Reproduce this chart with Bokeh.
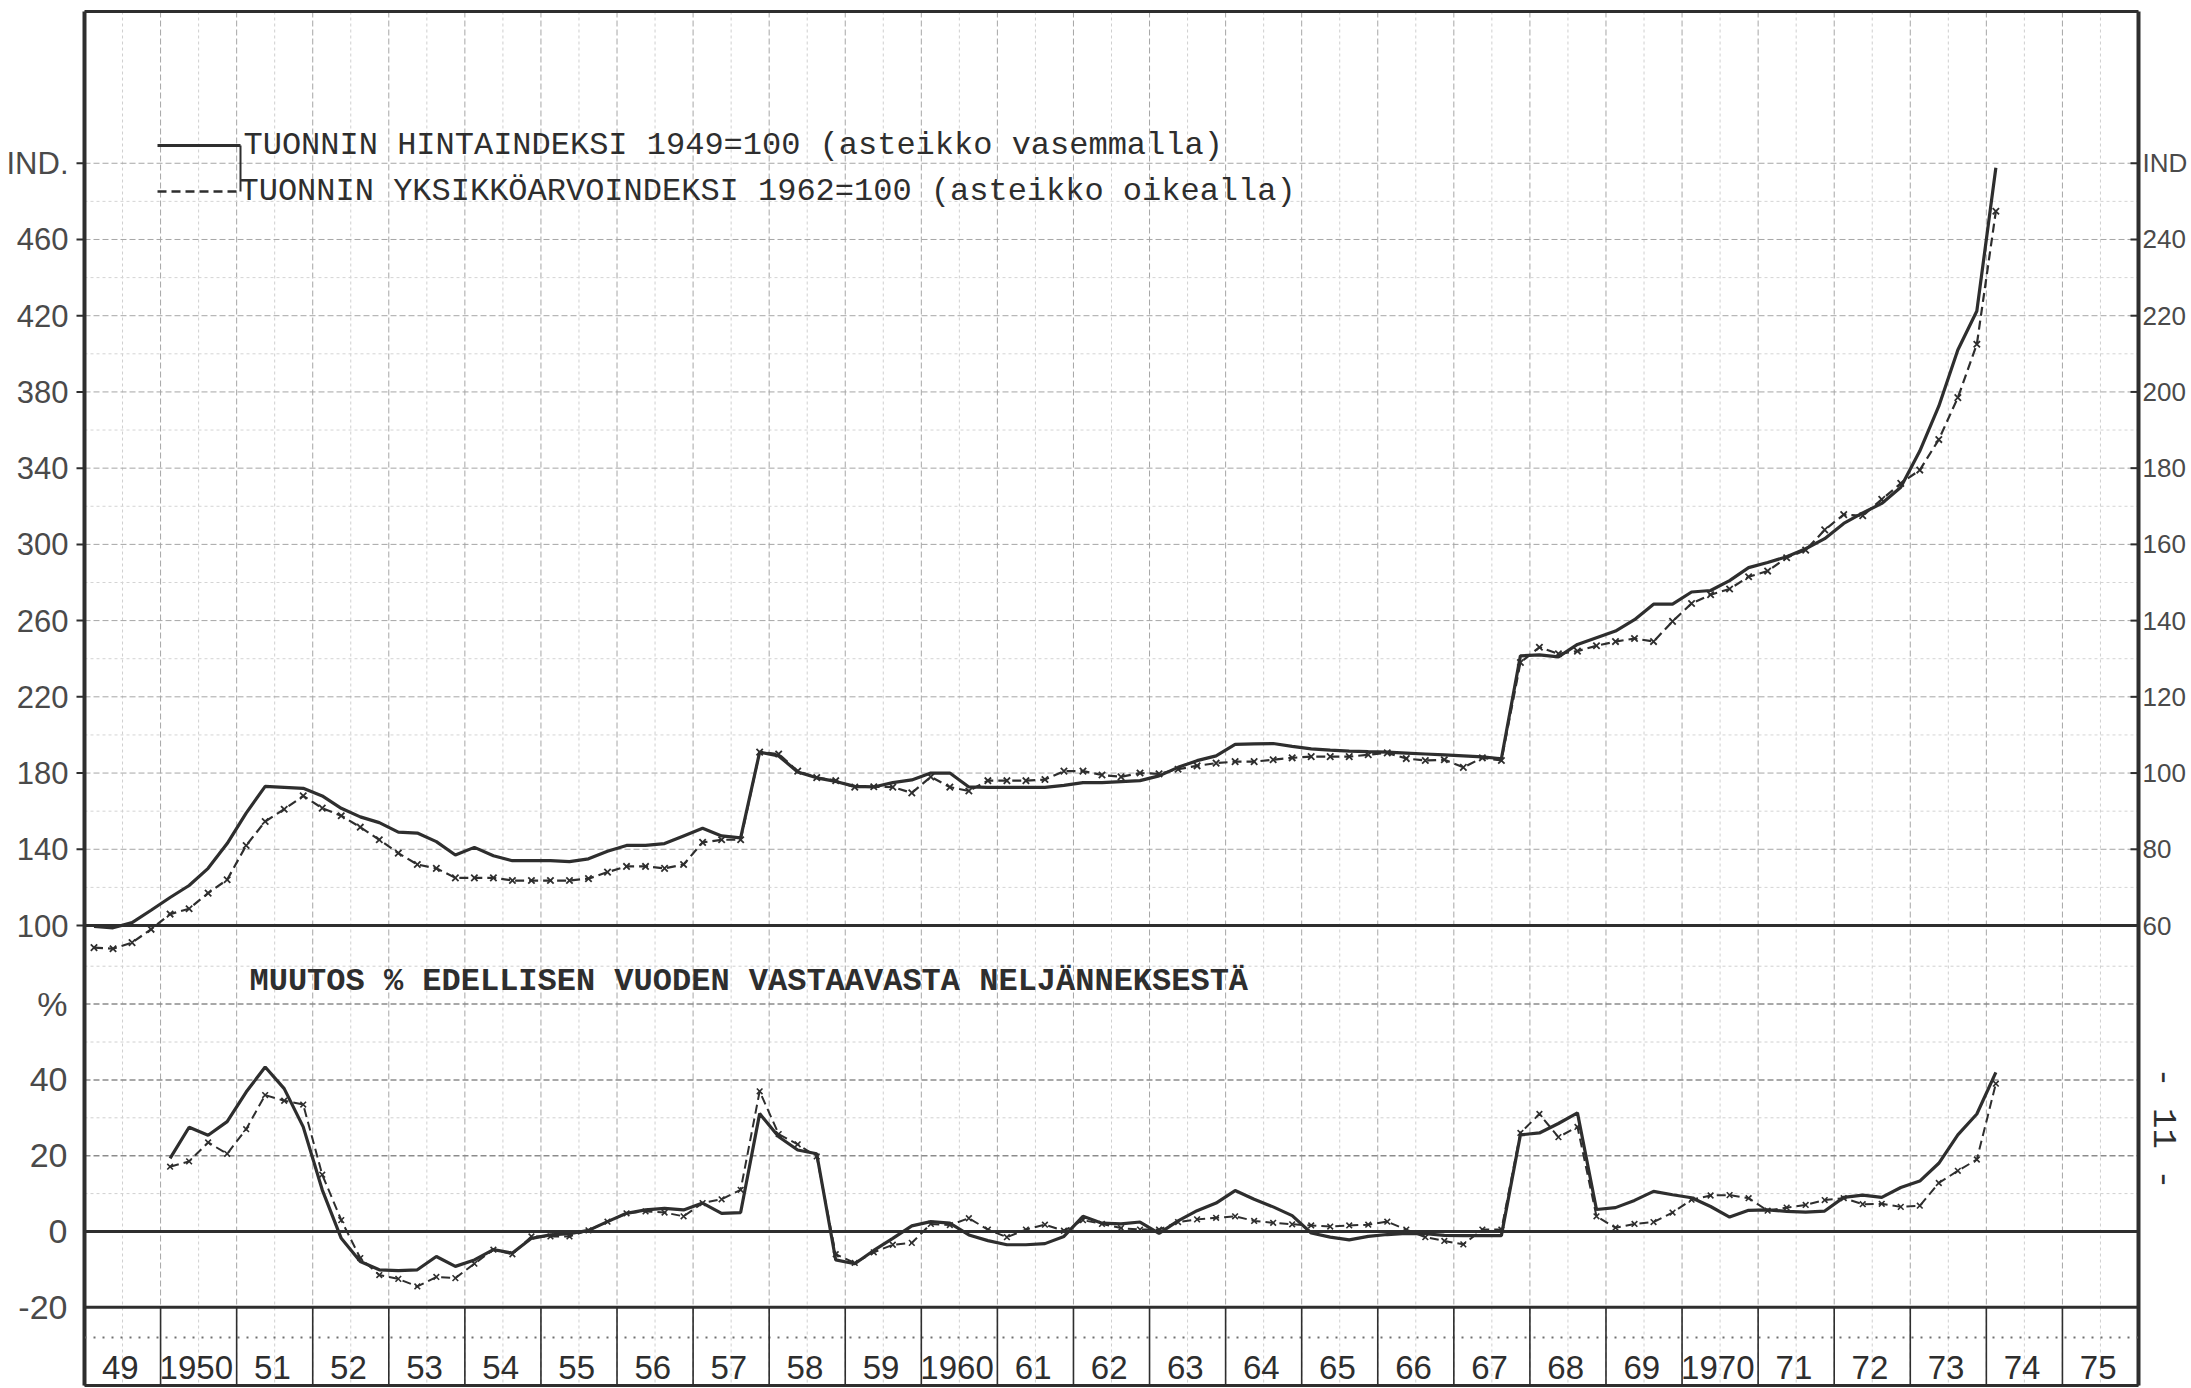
import numpy as np
from bokeh.plotting import figure
from bokeh.models import Range1d, Label
from bokeh.core.properties import value
from bokeh.embed import file_html
from bokeh.resources import INLINE

# ---------------- data (quarterly, from 1949 Q1) ----------------
start_year = 1949

# TUONNIN HINTAINDEKSI 1949=100 (left scale)
hinta_1949 = [99.5, 98.8, 101.5, 108, 114.7, 121, 130, 143, 159, 173,
              172.5, 172, 168, 161.5, 157, 154, 149, 148.5, 144, 137,
              141, 136.6, 134, 134, 134, 133.5, 135, 139, 142, 142,
              143, 147, 151, 147, 146, 191, 189, 180.6, 177.5, 175.6,
              173, 172.7, 175, 176.4, 180, 180, 172.7, 172.5, 172.5, 172.5,
              172.5, 173.5, 175, 175, 175.5, 176, 178.5, 183, 186.5, 189,
              195, 195.3, 195.5, 194, 192.7, 192, 191.5, 191.2, 191, 190.5,
              190, 189.5, 189, 188.5, 187.5, 241.5, 242, 241, 247.5, 251,
              254.5, 260.5, 268.6, 268.6, 275, 275.8, 281, 287.8, 290.5, 293.5,
              297.7, 303, 311, 316.5, 321.5, 330, 349, 372.5, 402, 422.5,
              497.6]

# TUONNIN YKSIKKÖARVOINDEKSI 1962=100 (right scale)
yksikko_1962 = [54.2, 53.9, 55.5, 59.0, 63.0, 64.4, 68.5, 72.0, 81.0, 87.3,
                90.5, 94.0, 90.8, 88.8, 85.8, 82.5, 79.0, 76.0, 75.0, 72.5,
                72.5, 72.5, 71.8, 71.8, 71.8, 71.8, 72.3, 74.0, 75.5, 75.5,
                75.0, 76.0, 81.8, 82.5, 82.5, 105.5, 105.0, 100.5, 98.8, 98.0,
                96.3, 96.4, 96.3, 94.8, 99.0, 96.3, 95.3, 98.0, 98.0, 98.0,
                98.3, 100.5, 100.5, 99.5, 99.0, 100.0, 99.8, 101.0, 101.9, 102.6,
                103.0, 103.0, 103.5, 104.0, 104.3, 104.3, 104.3, 104.8, 105.3, 103.8,
                103.3, 103.5, 101.5, 104.0, 103.3, 129.0, 133.0, 131.3, 132.0, 133.4,
                134.5, 135.3, 134.5, 139.8, 144.5, 146.8, 148.3, 151.5, 153.0, 156.5,
                158.5, 163.8, 167.8, 167.5, 171.8, 176.0, 179.5, 187.5, 198.5, 212.5,
                247.4]

# MUUTOS % EDELLISEN VUODEN VASTAAVASTA NELJÄNNEKSESTÄ (from 1950 Q1)
hinta_muutos = [19.3, 27.5, 25.4, 29, 36.8, 43.4, 37.7, 27.6, 11, -1.8,
                -7.9, -10.1, -10.3, -10.1, -6.6, -9.2, -7.5, -4.8, -5.7, -1.8,
                -0.9, -0.6, 0.3, 2.6, 4.8, 5.7, 6.1, 5.7, 7.5, 4.8,
                5.0, 31.1, 25, 21.5, 20.5, -7.5, -8.5, -5, -1.8, 1.5,
                2.6, 2.2, -0.9, -2.4, -3.5, -3.5, -3.2, -1.3, 4, 2.2,
                2, 2.5, -0.5, 2.8, 5.5, 7.5, 10.8, 8.5, 6.5, 4.2,
                -0.4, -1.5, -2.2, -1.3, -0.8, -0.5, -0.6, -1.0, -1.1, -1.1,
                -1.1, 25.5, 26, 28.5, 31.3, 5.8, 6.3, 8.2, 10.6, 9.7,
                8.9, 6.6, 3.8, 5.6, 5.7, 5.3, 5.1, 5.4, 9.0, 9.6,
                9.0, 11.6, 13.3, 18, 25.5, 31, 42]
yksikko_muutos = [17.1, 18.5, 23.5, 20.5, 27, 36, 34.5, 33.5, 15, 3,
                  -7, -11.5, -12.5, -14.5, -12, -12.3, -8.5, -4.8, -6, -1.3,
                  -1.3, -1.3, 0.3, 2.6, 4.8, 5.3, 5, 4, 7.5, 8.5,
                  11, 37, 25.7, 23, 19.8, -6, -8.3, -5.5, -3.5, -3,
                  2, 1.7, 3.5, 0.5, -1.5, 0.5, 1.8, 0.2, 3, 2,
                  0.9, 0.5, 0.5, 2.5, 3.2, 3.6, 4, 2.8, 2.3, 1.9,
                  1.6, 1.3, 1.6, 1.8, 2.6, 0.5, -1.5, -2.5, -3.4, 0.5,
                  0.5, 26, 31, 24.9, 27.6, 4, 1, 2, 2.5, 5,
                  8.4, 9.5, 9.6, 8.8, 5.5, 6.3, 7, 8.3, 8.8, 7.2,
                  7.3, 6.5, 6.8, 12.8, 16, 19, 39]

left_ticks = [100, 140, 180, 220, 260, 300, 340, 380, 420, 460, 500]
left_labels = ["100", "140", "180", "220", "260", "300", "340", "380", "420", "460", "IND."]
right_ticks = [60, 80, 100, 120, 140, 160, 180, 200, 220, 240, 260]
right_labels = ["60", "80", "100", "120", "140", "160", "180", "200", "220", "240", "IND"]
pct_ticks = [-20, 0, 20, 40, 60]
pct_labels = ["-20", "0", "20", "40", "%"]
years = list(range(1949, 1976))
year_labels = ["49", "1950", "51", "52", "53", "54", "55", "56", "57", "58", "59",
               "1960", "61", "62", "63", "64", "65", "66", "67", "68", "69",
               "1970", "71", "72", "73", "74", "75"]
legend_solid = "TUONNIN HINTAINDEKSI 1949=100 (asteikko vasemmalla)"
legend_dashed = "TUONNIN YKSIKKÖARVOINDEKSI 1962=100 (asteikko oikealla)"
subtitle = "MUUTOS % EDELLISEN VUODEN VASTAAVASTA NELJÄNNEKSESTÄ"
page_number = "- 11 -"

# ---------------- layout geometry (pixels of the page) ----------------
W, H = 2191, 1388
X0, X1 = start_year, years[-1] + 1
LEFT_PX, RIGHT_PX = 84, 2138
PX_YEAR = (RIGHT_PX - LEFT_PX) / (X1 - X0)
IDX100_PX, PX_IDX = 925, 1.9056
PCT0_PX, PX_PCT = 1231, 3.79
TOP_PX, BOTTOM_PX = 11, 1385


def yr(px):
    return X0 + (px - LEFT_PX) / PX_YEAR


def idx(px):
    return 100 + (IDX100_PX - px) / PX_IDX


def pct(px):
    return (PCT0_PX - px) / PX_PCT


def right_of(v):
    return v / 2 + 10


INK = "#2e2e2e"
TXT = "#4a4a4a"
SANS = "Liberation Sans"
MONO = "Liberation Mono"

t = [start_year + (i + 0.5) / 4 for i in range(len(hinta_1949))]
t_pct = t[4:]

p = figure(width=W, height=H, output_backend="svg", toolbar_location=None,
           x_range=Range1d(yr(0), yr(W)), y_range=Range1d(idx(H), idx(0)),
           x_axis_location=None, y_axis_location=None,
           min_border_left=0, min_border_right=0, min_border_top=0, min_border_bottom=0,
           background_fill_color="white", border_fill_color="white")
p.extra_y_ranges = {"right": Range1d(right_of(idx(H)), right_of(idx(0))),
                    "pct": Range1d(pct(H), pct(0))}
p.outline_line_color = None
p.xgrid.visible = False
p.ygrid.visible = False

top_i, bot_i = idx(TOP_PX), idx(BOTTOM_PX)
bounds = list(range(X0, X1 + 1))
halves = [y + 0.5 for y in years]

# ---------------- graph-paper grid ----------------
p.segment(x0=halves, x1=halves, y0=[top_i] * len(halves), y1=[bot_i] * len(halves),
          line_color="#cfcfcf", line_dash="3 3", line_width=1)
p.segment(x0=bounds, x1=bounds, y0=[top_i] * len(bounds), y1=[bot_i] * len(bounds),
          line_color="#a6a6a6", line_dash="6 3", line_width=1)
minor_idx = [v + 20 for v in left_ticks[:-1]]
p.segment(x0=[X0] * len(minor_idx), x1=[X1] * len(minor_idx), y0=minor_idx, y1=minor_idx,
          line_color="#d4d4d4", line_dash="3 3", line_width=1)
p.segment(x0=[X0] * len(left_ticks), x1=[X1] * len(left_ticks), y0=left_ticks, y1=left_ticks,
          line_color="#a6a6a6", line_dash="6 3", line_width=1)
light = [10, 30, 50, 70]
mid = [20, 40, 60]
p.segment(x0=[X0] * len(light), x1=[X1] * len(light), y0=light, y1=light,
          y_range_name="pct", line_color="#d0d0d0", line_dash="3 3", line_width=1)
p.segment(x0=[X0] * len(mid), x1=[X1] * len(mid), y0=mid, y1=mid,
          y_range_name="pct", line_color="#8c8c8c", line_dash="6 3", line_width=1.5)

# ---------------- frame, base lines and year strip ----------------
p.segment(x0=[X0, X1], x1=[X0, X1], y0=[top_i, top_i], y1=[bot_i, bot_i],
          line_color=INK, line_width=4)
p.segment(x0=[X0, X0], x1=[X1, X1], y0=[top_i, 100], y1=[top_i, 100],
          line_color=INK, line_width=3)
p.segment(x0=[X0] * 3, x1=[X1] * 3, y0=[0, -20, pct(BOTTOM_PX)], y1=[0, -20, pct(BOTTOM_PX)],
          y_range_name="pct", line_color=INK, line_width=3)
p.segment(x0=[X0], x1=[X1], y0=[pct(1337)], y1=[pct(1337)],
          y_range_name="pct", line_color="#707070", line_dash="2 7", line_width=2)
p.segment(x0=bounds, x1=bounds, y0=[pct(BOTTOM_PX)] * len(bounds), y1=[-20] * len(bounds),
          y_range_name="pct", line_color=INK, line_width=1.6)

# axis ticks
tick = 8 / PX_YEAR
p.segment(x0=[X0 - tick] * len(left_ticks), x1=[X0] * len(left_ticks),
          y0=left_ticks, y1=left_ticks, line_color=INK, line_width=2)
p.segment(x0=[X1 - tick] * len(right_ticks), x1=[X1] * len(right_ticks),
          y0=right_ticks, y1=right_ticks, y_range_name="right", line_color=INK, line_width=2)

# axis labels
p.text(x=[yr(68)] * len(left_ticks), y=left_ticks, text=left_labels,
       text_font=value(SANS), text_font_size="31px", text_color=TXT,
       text_align="right", text_baseline="middle")
p.text(x=[yr(2142)] * len(right_ticks), y=right_ticks, text=right_labels,
       y_range_name="right", text_font=value(SANS), text_font_size="26px", text_color=TXT,
       text_align="left", text_baseline="middle")
p.text(x=[yr(67)] * len(pct_ticks), y=pct_ticks, text=pct_labels,
       y_range_name="pct", text_font=value(SANS), text_font_size="34px", text_color=TXT,
       text_align="right", text_baseline="middle")
p.text(x=[y + 0.47 for y in years], y=[pct(1367)] * len(years), text=year_labels,
       y_range_name="pct", text_font=value(SANS), text_font_size="33px",
       text_color=INK, text_align="center", text_baseline="middle")

# ---------------- series ----------------
p.line(t, hinta_1949, line_color=INK, line_width=3.2)
p.line(t, yksikko_1962, y_range_name="right", line_color=INK, line_width=2.2, line_dash="9 5")
p.scatter(t, yksikko_1962, y_range_name="right", marker="x", size=9,
          line_color=INK, line_width=1.8)

p.line(t_pct, hinta_muutos, y_range_name="pct", line_color=INK, line_width=3.2)
p.line(t_pct, yksikko_muutos, y_range_name="pct", line_color=INK, line_width=2.0, line_dash="9 5")
p.scatter(t_pct, yksikko_muutos, y_range_name="pct", marker="x", size=8,
          line_color=INK, line_width=1.6)

# ---------------- legend (drawn like the original) ----------------
lx0, lx1 = yr(157), yr(240)
ly1, ly2 = idx(145), idx(191)
p.line([lx0, lx1], [ly1, ly1], line_color=INK, line_width=3)
p.line([lx0, lx1], [ly2, ly2], line_color=INK, line_width=2.5, line_dash="9 5")
p.line([lx1, lx1], [ly2, ly1], line_color=INK, line_width=2)
p.add_layout(Label(x=yr(243), y=ly1, text=legend_solid, text_font=MONO, text_font_size="32px",
                   text_color=INK, text_baseline="middle", text_align="left"))
p.add_layout(Label(x=yr(239), y=ly2, text=legend_dashed, text_font=MONO, text_font_size="32px",
                   text_color=INK, text_baseline="middle", text_align="left"))

p.add_layout(Label(x=yr(249), y=pct(981), y_range_name="pct", text=subtitle,
                   text_font=MONO, text_font_style="bold", text_font_size="32px",
                   text_color=INK, text_baseline="middle", text_align="left"))

# page number at the right edge
p.add_layout(Label(x=yr(2162), y=pct(1128), y_range_name="pct", text=page_number,
                   angle=-np.pi / 2, text_font=MONO, text_font_size="34px",
                   text_color=INK, text_baseline="middle", text_align="center"))

open("out.html", "w").write(file_html(p, INLINE))
